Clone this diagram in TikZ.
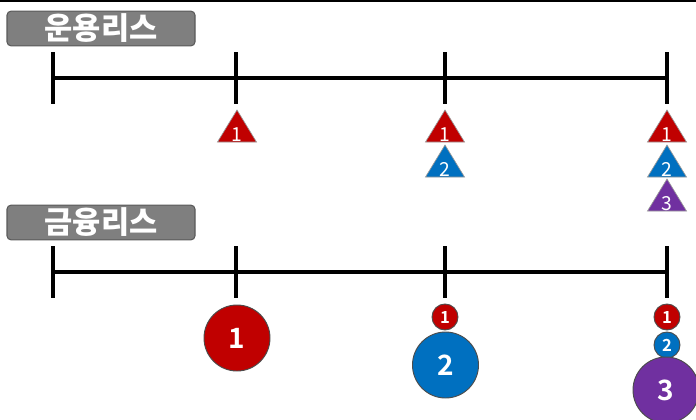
\documentclass[tikz,border=0pt]{standalone}
\usepackage{fontspec}
\newfontfamily\kr{Noto Sans CJK KR}
\newfontfamily\krb{Noto Sans CJK KR Bold}
\definecolor{cred}{HTML}{C00000}
\definecolor{cblue}{HTML}{0070C0}
\definecolor{cpurple}{HTML}{7030A0}
\definecolor{cgray}{HTML}{7F7F7F}
\definecolor{cgborder}{HTML}{5A5A5A}
\begin{document}
\begin{tikzpicture}[x=0.75pt,y=-0.75pt,
  labelbox/.style={draw=cgborder,line width=0.8pt,fill=cgray,rounded corners=3pt,minimum width=141pt,minimum height=26pt,inner sep=0pt,text=white,font=\kr\bfseries\fontsize{23}{23}\selectfont},
  tline/.style={line width=2.4pt,black},
  tri/.style={draw=gray!80,line width=0.5pt},
  trinum/.style={text=white,font=\kr\fontsize{14.5}{14.5}\selectfont,inner sep=0pt,anchor=base},
  bigc/.style={circle,draw=black!70,line width=0.7pt,minimum size=49.5pt,inner sep=0pt,text=white,font=\krb\fontsize{21}{21}\selectfont},
  smallc/.style={circle,draw=black!70,line width=0.7pt,minimum size=19.5pt,inner sep=0pt,text=white,font=\krb\fontsize{12.5}{12.5}\selectfont}]
\useasboundingbox (0,0) rectangle (696,419);
\draw[line width=1.5pt] (0,1) -- (696,1);
% top
\node[labelbox] (lab1) at (101,28.5) {운용리스};
\coordinate (a0) at (53,78); \coordinate (a1) at (236,78); \coordinate (a2) at (445,78); \coordinate (a3) at (667,78);
\draw[tline] (a0) -- (a3);
\foreach \p in {a0,a1,a2,a3} \draw[tline] ([yshift=19.5pt]\p) -- ([yshift=-19.5pt]\p);
% triangles
\foreach \x/\y/\c/\n in {237/110/cred/1, 445/110/cred/1, 667/110/cred/1, 445/145/cblue/2, 667/145/cblue/2, 667/179/cpurple/3}{
  \fill[\c] (\x,\y) -- (\x+19.5,\y+32) -- (\x-19.5,\y+32) -- cycle;
  \draw[tri] (\x,\y) -- (\x+19.5,\y+32) -- (\x-19.5,\y+32) -- cycle;
  \node[trinum] (t\x\y) at (\x,\y+31) {\n};
}
% bottom
\node[labelbox] (lab2) at (101,222.5) {금융리스};
\coordinate (b0) at (53,272); \coordinate (b1) at (236,272); \coordinate (b2) at (445,272); \coordinate (b3) at (667,272);
\draw[tline] (b0) -- (b3);
\foreach \p in {b0,b1,b2,b3} \draw[tline] ([yshift=19.5pt]\p) -- ([yshift=-19.5pt]\p);
\node[bigc,fill=cred] (c1) at (237,338) {1};
\node[smallc,fill=cred] (c2a) at (445,317) {1};
\node[bigc,fill=cblue] (c2b) at (445.5,365) {2};
\node[smallc,fill=cred] (c3a) at (667,317) {1};
\node[smallc,fill=cblue] (c3b) at (667,345) {2};
\node[bigc,fill=cpurple] (c3c) at (666,390) {3};
\end{tikzpicture}
\end{document}
